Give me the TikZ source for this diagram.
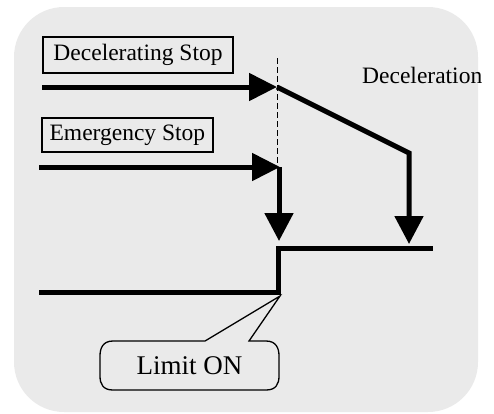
\documentclass[tikz,border=0pt]{standalone}
\usepackage{fontspec}
\setmainfont{Liberation Serif}
\newfontfamily\labelfont{Liberation Serif}
\usetikzlibrary{arrows.meta}
\definecolor{bggray}{HTML}{EAEAEA}
\begin{document}
\begin{tikzpicture}[x=1pt,y=-1pt,
  signal/.style={line width=5pt},
  sigarrow/.style={line width=5pt,-{Triangle[length=28pt,width=27pt]}},
  labelbox/.style={draw,line width=1.3pt,fill=bggray,inner sep=0pt,font=\labelfont\fontsize{23.5}{26}\selectfont},
  plainlabel/.style={inner sep=0pt,font=\labelfont\fontsize{23.5}{26}\selectfont},
  calloutlabel/.style={inner sep=0pt,font=\labelfont\fontsize{27}{30}\selectfont}]
\useasboundingbox (0,0) rectangle (494,413);
\fill[bggray,rounded corners=50pt] (14,7) rectangle (478,412);

% labels
\node[labelbox,minimum width=190pt,minimum height=36pt] (dstop) at (138,55) {Decelerating Stop};
\node[labelbox,minimum width=171pt,minimum height=34pt] (estop) at (127.4,135) {Emergency Stop};
\node[plainlabel,anchor=base west] (decel) at (362,83) {Deceleration};

% coordinates
\coordinate (d0) at (42,87);
\coordinate (d1) at (277,87);
\coordinate (d2) at (409,153);
\coordinate (d3) at (409,244);
\coordinate (e0) at (39,167);
\coordinate (e1) at (280,167);
\coordinate (e2) at (279,167);
\coordinate (e3) at (279,241);
\coordinate (s0) at (39,292);
\coordinate (s1) at (278,292);
\coordinate (s2) at (278,248);
\coordinate (s3) at (433,248);
\coordinate (dtop) at (277.5,58);
\coordinate (dbot) at (277.5,172);
\coordinate (tip) at (280,296);

% dashed guide
\draw[line width=1pt,dash pattern=on 6pt off 3pt] (dtop) -- (dbot);

% decelerating stop
\draw[sigarrow] (d0) -- (d1);
\draw[signal,-{Triangle[length=28pt,width=28pt]},line join=miter] (d1) -- (d2) -- (d3);

% emergency stop
\draw[sigarrow] (e0) -- (e1);
\draw[signal,-{Triangle[length=28pt,width=28pt]}] (e2) -- (e3);

% limit signal
\draw[signal,line join=miter] (s0) -- (s1) -- (s2) -- (s3);

% callout
\draw[line width=1.3pt,fill=bggray]
  (205,341) -- (tip) -- (249,341) -- (266,341)
  .. controls (276,341) and (279,348) .. (279,356)
  -- (279,376)
  .. controls (279,384) and (276,390) .. (266,390)
  -- (113,390)
  .. controls (103,390) and (100,384) .. (100,376)
  -- (100,356)
  .. controls (100,348) and (103,341) .. (113,341)
  -- cycle;
\node[calloutlabel] (lim) at (189.5,366) {Limit ON};
\end{tikzpicture}
\end{document}
